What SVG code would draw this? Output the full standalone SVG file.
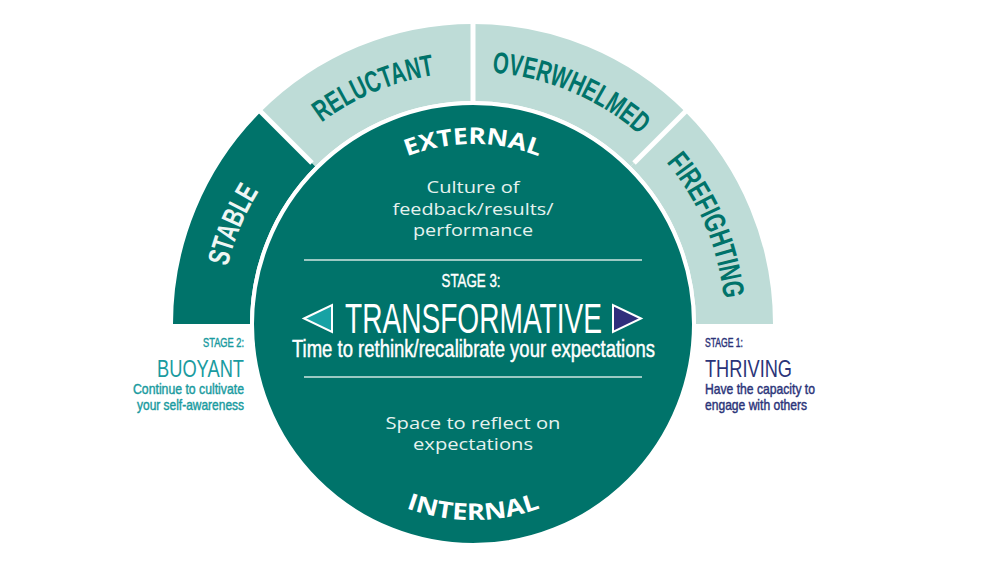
<svg xmlns="http://www.w3.org/2000/svg" width="1000" height="563" viewBox="0 0 1000 563">
<defs>
<style>
.cond{font-family:"Liberation Sans Narrow","Liberation Sans",Arial,sans-serif;}
.med{stroke-width:0.45px;}
.ring{font-family:"Liberation Sans Narrow","Liberation Sans",Arial,sans-serif;font-weight:bold;font-size:30px;fill:#00736a;}
.body{font-family:"Open Sans","Noto Sans",sans-serif;font-size:17px;fill:#e6f2ef;text-anchor:middle;}
.arcLbl{font-family:"Open Sans","Noto Sans",sans-serif;font-weight:bold;font-size:23px;fill:#ffffff;}
.sep{stroke:#cfe6e2;stroke-width:1.5;}
.div{stroke:#ffffff;stroke-width:5;}
</style>
<path id="ringPath" d="M221,324 A252,252 0 0 1 725,324" fill="none"/>
<path id="extPath" d="M293,324 A180,180 0 0 1 653,324" fill="none"/>
<path id="intPath" d="M277,324 A196,196 0 0 0 669,324" fill="none"/>
</defs>
<rect width="1000" height="563" fill="#ffffff"/>

<g id="ring-stable">
<path d="M173,324 A300,300 0 0 1 260.87,111.87 L315.32,166.32 A223,223 0 0 0 250,324 Z" fill="#00736a"/>
<text class="ring" style="fill:#eef6f4"><textPath href="#ringPath" startOffset="12.5%" text-anchor="middle" textLength="82" lengthAdjust="spacingAndGlyphs">STABLE</textPath></text>
</g>
<g id="ring-reluctant">
<path d="M260.87,111.87 A300,300 0 0 1 473,24 L473,101 A223,223 0 0 0 315.32,166.32 Z" fill="#bedcd7"/>
<text class="ring"><textPath href="#ringPath" startOffset="37.3%" text-anchor="middle" textLength="124" lengthAdjust="spacingAndGlyphs">RELUCTANT</textPath></text>
</g>
<g id="ring-overwhelmed">
<path d="M473,24 A300,300 0 0 1 685.13,111.87 L630.68,166.32 A223,223 0 0 0 473,101 Z" fill="#bedcd7"/>
<text class="ring"><textPath href="#ringPath" startOffset="62.7%" text-anchor="middle" textLength="163" lengthAdjust="spacingAndGlyphs">OVERWHELMED</textPath></text>
</g>
<g id="ring-firefighting">
<path d="M685.13,111.87 A300,300 0 0 1 773,324 L696,324 A223,223 0 0 0 630.68,166.32 Z" fill="#bedcd7"/>
<text class="ring"><textPath href="#ringPath" startOffset="87.3%" text-anchor="middle" textLength="150" lengthAdjust="spacingAndGlyphs">FIREFIGHTING</textPath></text>
</g>

<g id="connectors">
<line class="div" x1="312" y1="163" x2="258" y2="109"/>
<line class="div" x1="473" y1="104" x2="473" y2="20"/>
<line class="div" x1="634" y1="163" x2="688" y2="109"/>
</g>

<g id="core">
<circle cx="473" cy="324" r="221" fill="#00736a" stroke="#ffffff" stroke-width="4"/>
<text class="arcLbl"><textPath href="#extPath" startOffset="50%" text-anchor="middle" textLength="135" lengthAdjust="spacingAndGlyphs">EXTERNAL</textPath></text>
<text class="arcLbl"><textPath href="#intPath" startOffset="50%" text-anchor="middle" textLength="137" lengthAdjust="spacingAndGlyphs">INTERNAL</textPath></text>
<text class="body" x="473" y="193" textLength="93" lengthAdjust="spacingAndGlyphs">Culture of</text>
<text class="body" x="473" y="215" textLength="161" lengthAdjust="spacingAndGlyphs">feedback/results/</text>
<text class="body" x="473" y="236" textLength="120" lengthAdjust="spacingAndGlyphs">performance</text>
<line class="sep" x1="304" y1="260" x2="642" y2="260"/>
<text class="cond med" x="471" y="287" font-size="19" fill="#ffffff" stroke="#ffffff" text-anchor="middle" textLength="59" lengthAdjust="spacingAndGlyphs">STAGE 3:</text>
<polygon points="304,318.5 332,305 332,332" fill="#17a2a4" stroke="#ffffff" stroke-width="2"/>
<text class="cond" x="473.5" y="333" font-size="42" fill="#ffffff" text-anchor="middle" textLength="257" lengthAdjust="spacingAndGlyphs">TRANSFORMATIVE</text>
<polygon points="641,318.5 613,305 613,332" fill="#2f2e7c" stroke="#ffffff" stroke-width="2"/>
<text class="cond med" x="473.5" y="357" font-size="23" fill="#ffffff" stroke="#ffffff" text-anchor="middle" textLength="363" lengthAdjust="spacingAndGlyphs">Time to rethink/recalibrate your expectations</text>
<line class="sep" x1="304" y1="377" x2="642" y2="377"/>
<text class="body" x="473" y="429" textLength="175" lengthAdjust="spacingAndGlyphs">Space to reflect on</text>
<text class="body" x="473" y="450" textLength="120" lengthAdjust="spacingAndGlyphs">expectations</text>
</g>

<g id="stage2" class="cond" fill="#1a9ba0" text-anchor="end">
<text class="med" stroke="#1a9ba0" x="244" y="347" font-size="12.5" textLength="41" lengthAdjust="spacingAndGlyphs">STAGE 2:</text>
<text x="244" y="377" font-size="24" textLength="87" lengthAdjust="spacingAndGlyphs">BUOYANT</text>
<text class="med" stroke="#1a9ba0" x="244" y="394" font-size="15" textLength="111" lengthAdjust="spacingAndGlyphs">Continue to cultivate</text>
<text class="med" stroke="#1a9ba0" x="244" y="410" font-size="15" textLength="107" lengthAdjust="spacingAndGlyphs">your self-awareness</text>
</g>

<g id="stage1" class="cond" fill="#2b3479">
<text class="med" stroke="#2b3479" x="705" y="347" font-size="12.5" textLength="38" lengthAdjust="spacingAndGlyphs">STAGE 1:</text>
<text x="705" y="377" font-size="24" textLength="87" lengthAdjust="spacingAndGlyphs">THRIVING</text>
<text class="med" stroke="#2b3479" x="705" y="394" font-size="15" textLength="110" lengthAdjust="spacingAndGlyphs">Have the capacity to</text>
<text class="med" stroke="#2b3479" x="705" y="410" font-size="15" textLength="102" lengthAdjust="spacingAndGlyphs">engage with others</text>
</g>
</svg>
